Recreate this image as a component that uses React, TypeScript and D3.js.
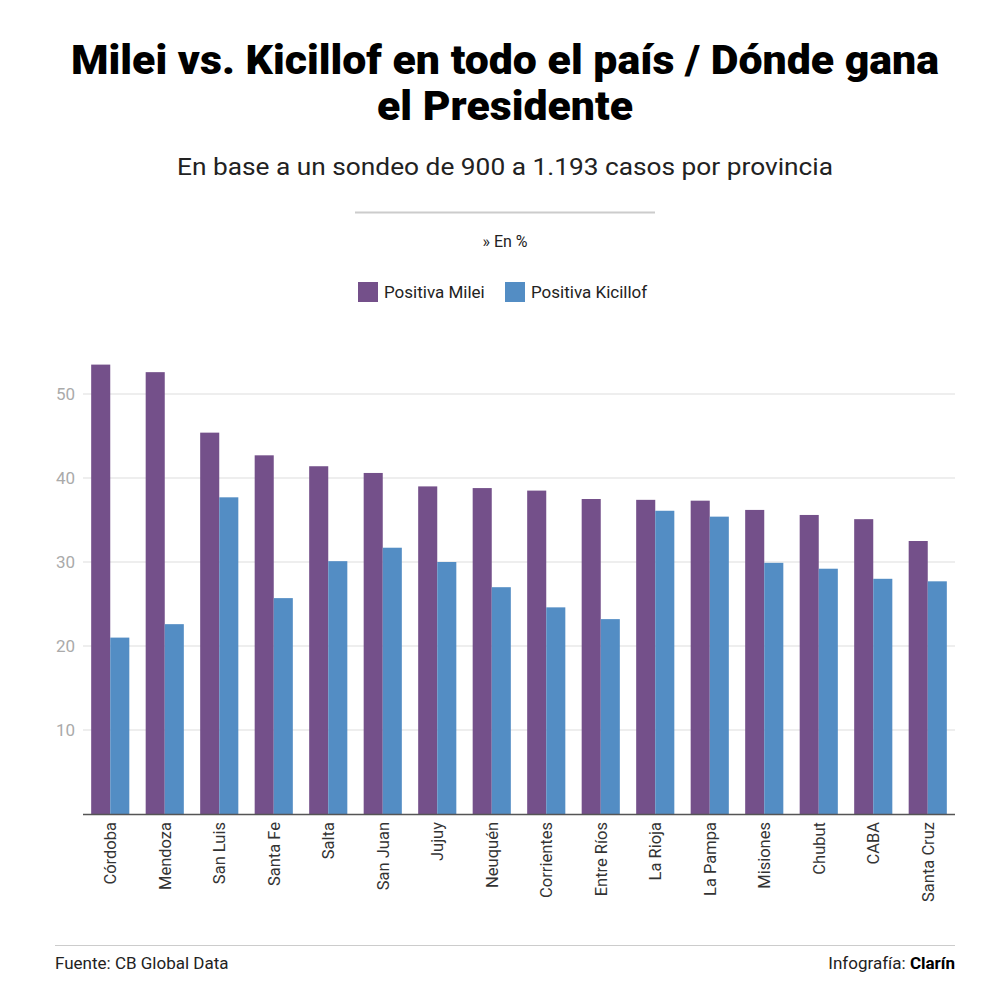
import React from "react";
import * as d3 from "d3";

const provinces = ["Córdoba", "Mendoza", "San Luis", "Santa Fe", "Salta", "San Juan", "Jujuy", "Neuquén", "Corrientes", "Entre Ríos", "La Rioja", "La Pampa", "Misiones", "Chubut", "CABA", "Santa Cruz"];
const milei = [53.5, 52.6, 45.4, 42.7, 41.4, 40.6, 39.0, 38.8, 38.5, 37.5, 37.4, 37.3, 36.2, 35.6, 35.1, 32.5];
const kicillof = [21.0, 22.6, 37.7, 25.7, 30.1, 31.7, 30.0, 27.0, 24.6, 23.2, 36.1, 35.4, 29.9, 29.2, 28.0, 27.7];
const seriesNames = ["Positiva Milei", "Positiva Kicillof"];
const yTicks = [10, 20, 30, 40, 50];

const W = 998, H = 1002;
const COLORS = ["#74508a", "#538dc4"];
const FONT = "Roboto, 'Noto Sans', sans-serif";

export default function App() {
  const x0 = d3.scaleBand<string>().domain(provinces).range([83, 955]).paddingInner(0.3).paddingOuter(0.15);
  const x1 = d3.scaleBand<string>().domain(seriesNames).range([0, x0.bandwidth()]).padding(0);
  const y = d3.scaleLinear().domain([0, 50]).range([814, 394]);
  const series = [milei, kicillof];

  return (
    <svg width={W} height={H} style={{ position: "absolute", left: 0, top: 0, background: "#fff" }} fontFamily={FONT}>
      <rect width={W} height={H} fill="#fff" />
      {/* Title */}
      <text x={505} y={74} textAnchor="middle" fontSize={40} fontWeight={900} fill="#000" textLength={868} lengthAdjust="spacingAndGlyphs">Milei vs. Kicillof en todo el país / Dónde gana</text>
      <text x={505} y={120} textAnchor="middle" fontSize={40} fontWeight={900} fill="#000" textLength={256} lengthAdjust="spacingAndGlyphs">el Presidente</text>
      <text x={505} y={175} textAnchor="middle" fontSize={24} fill="#222" textLength={656} lengthAdjust="spacingAndGlyphs">En base a un sondeo de 900 a 1.193 casos por provincia</text>
      <line x1={355} x2={655} y1={212.5} y2={212.5} stroke="#cccccc" strokeWidth={2} />
      <text x={505} y={247} textAnchor="middle" fontSize={16} fill="#222">» En %</text>
      {/* Legend */}
      {seriesNames.map((s, i) => {
        const lx = i === 0 ? 358 : 505;
        return (
          <g key={s}>
            <rect x={lx} y={282} width={20} height={20} fill={COLORS[i]} />
            <text x={lx + 26} y={298} fontSize={17} fill="#222">{s}</text>
          </g>
        );
      })}
      {/* Gridlines & y ticks */}
      {yTicks.map((t) => (
        <g key={t}>
          <line x1={83} x2={955} y1={y(t)} y2={y(t)} stroke="#e8e8e8" strokeWidth={1.5} />
          <text x={75} y={y(t) + 6} textAnchor="end" fontSize={17} fill="#aaaaaa">{t}</text>
        </g>
      ))}
      {/* Bars */}
      {provinces.map((p, i) => (
        <g key={p} transform={`translate(${x0(p)},0)`}>
          {series.map((vals, si) => (
            <rect key={si} x={x1(seriesNames[si])} y={y(vals[i])} width={x1.bandwidth()} height={y(0) - y(vals[i])} fill={COLORS[si]} />
          ))}
        </g>
      ))}
      {/* Axis line */}
      <line x1={83} x2={955} y1={814.5} y2={814.5} stroke="#555" strokeWidth={1.5} />
      {/* Category labels */}
      {provinces.map((p) => {
        const cx = (x0(p) as number) + x0.bandwidth() / 2;
        return (
          <text key={p} transform={`translate(${cx + 6},${822}) rotate(-90)`} textAnchor="end" fontSize={16.5} fill="#333">{p}</text>
        );
      })}
      {/* Footer */}
      <line x1={55} x2={955} y1={945.5} y2={945.5} stroke="#cccccc" strokeWidth={1} />
      <text x={55} y={969} fontSize={17} fill="#222">Fuente: CB Global Data</text>
      <text x={955} y={969} textAnchor="end" fontSize={17} fill="#222">Infografía: <tspan fontWeight={700} fill="#000">Clarín</tspan></text>
    </svg>
  );
}
